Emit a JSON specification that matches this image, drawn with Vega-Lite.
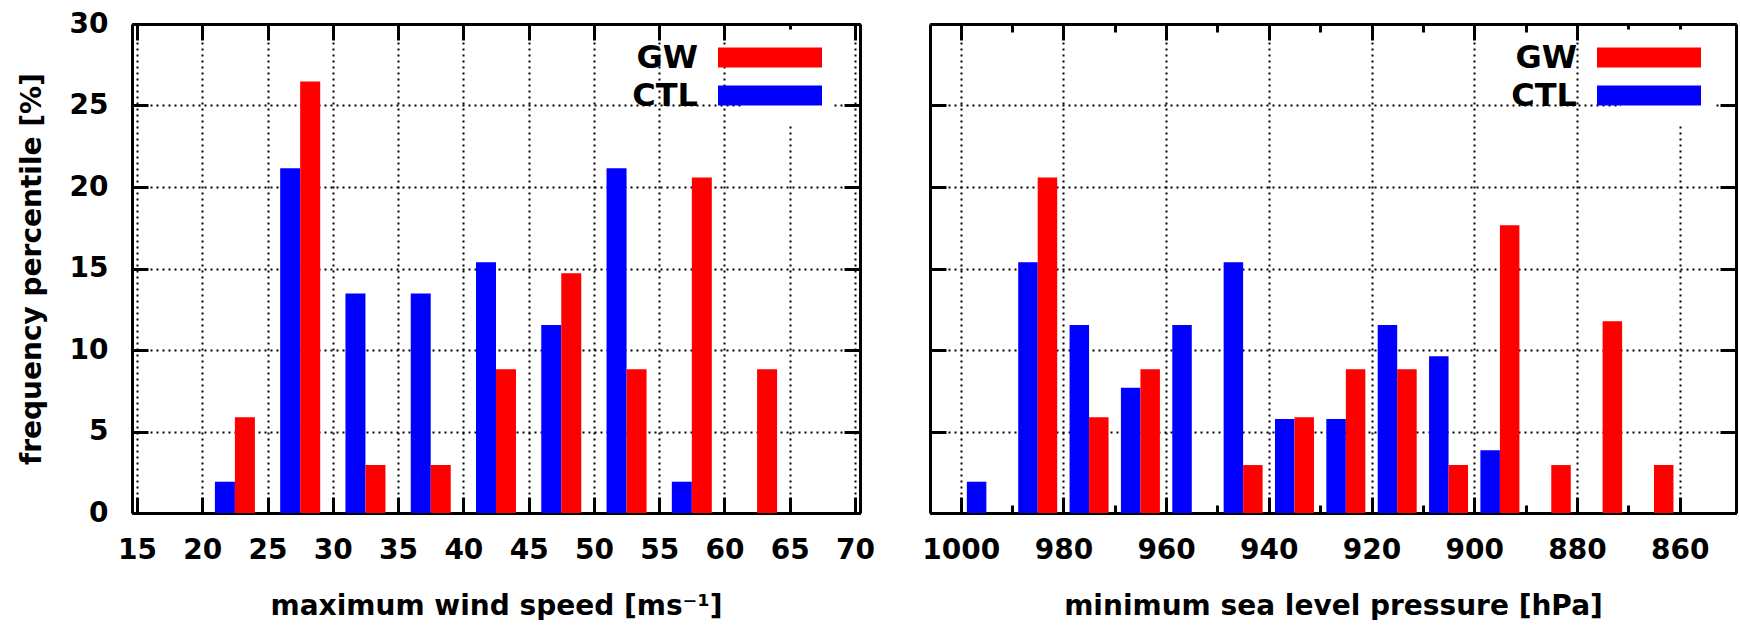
{
  "$schema": "https://vega.github.io/schema/vega-lite/v6.json",
  "padding": {"left": 18, "top": 10, "right": 0, "bottom": 0},
  "datasets": {
    "wind": [
      {"speed": 22.5, "series": "CTL", "pct": 1.92},
      {"speed": 22.5, "series": "GW", "pct": 5.88},
      {"speed": 27.5, "series": "CTL", "pct": 21.15},
      {"speed": 27.5, "series": "GW", "pct": 26.47},
      {"speed": 32.5, "series": "CTL", "pct": 13.46},
      {"speed": 32.5, "series": "GW", "pct": 2.94},
      {"speed": 37.5, "series": "CTL", "pct": 13.46},
      {"speed": 37.5, "series": "GW", "pct": 2.94},
      {"speed": 42.5, "series": "CTL", "pct": 15.38},
      {"speed": 42.5, "series": "GW", "pct": 8.82},
      {"speed": 47.5, "series": "CTL", "pct": 11.54},
      {"speed": 47.5, "series": "GW", "pct": 14.71},
      {"speed": 52.5, "series": "CTL", "pct": 21.15},
      {"speed": 52.5, "series": "GW", "pct": 8.82},
      {"speed": 57.5, "series": "CTL", "pct": 1.92},
      {"speed": 57.5, "series": "GW", "pct": 20.59},
      {"speed": 62.5, "series": "CTL", "pct": 0},
      {"speed": 62.5, "series": "GW", "pct": 8.82},
      {"speed": 67.5, "series": "CTL", "pct": 0},
      {"speed": 67.5, "series": "GW", "pct": 0}
    ],
    "slp": [
      {"pressure": 995, "series": "CTL", "pct": 1.92},
      {"pressure": 995, "series": "GW", "pct": 0},
      {"pressure": 985, "series": "CTL", "pct": 15.38},
      {"pressure": 985, "series": "GW", "pct": 20.59},
      {"pressure": 975, "series": "CTL", "pct": 11.54},
      {"pressure": 975, "series": "GW", "pct": 5.88},
      {"pressure": 965, "series": "CTL", "pct": 7.69},
      {"pressure": 965, "series": "GW", "pct": 8.82},
      {"pressure": 955, "series": "CTL", "pct": 11.54},
      {"pressure": 955, "series": "GW", "pct": 0},
      {"pressure": 945, "series": "CTL", "pct": 15.38},
      {"pressure": 945, "series": "GW", "pct": 2.94},
      {"pressure": 935, "series": "CTL", "pct": 5.77},
      {"pressure": 935, "series": "GW", "pct": 5.88},
      {"pressure": 925, "series": "CTL", "pct": 5.77},
      {"pressure": 925, "series": "GW", "pct": 8.82},
      {"pressure": 915, "series": "CTL", "pct": 11.54},
      {"pressure": 915, "series": "GW", "pct": 8.82},
      {"pressure": 905, "series": "CTL", "pct": 9.62},
      {"pressure": 905, "series": "GW", "pct": 2.94},
      {"pressure": 895, "series": "CTL", "pct": 3.85},
      {"pressure": 895, "series": "GW", "pct": 17.65},
      {"pressure": 885, "series": "CTL", "pct": 0},
      {"pressure": 885, "series": "GW", "pct": 2.94},
      {"pressure": 875, "series": "CTL", "pct": 0},
      {"pressure": 875, "series": "GW", "pct": 11.76},
      {"pressure": 865, "series": "CTL", "pct": 0},
      {"pressure": 865, "series": "GW", "pct": 2.94},
      {"pressure": 855, "series": "CTL", "pct": 0},
      {"pressure": 855, "series": "GW", "pct": 0}
    ]
  },
  "spacing": 70,
  "bounds": "flush",
  "hconcat": [
    {
      "width": 728,
      "height": 489,
      "data": {"name": "wind"},
      "layer": [
        {
          "transform": [{"filter": "datum.series == 'CTL'"}],
          "mark": {"type": "bar", "width": 20, "xOffset": -10},
          "encoding": {
            "x": {
              "field": "speed", "type": "quantitative",
              "scale": {"domain": [15, 70], "nice": false, "zero": false},
              "axis": {"orient": "bottom", "values": [15, 20, 25, 30, 35, 40, 45, 50, 55, 60, 65, 70], "format": "d", "title": "maximum wind speed [ms⁻¹]", "grid": true}
            },
            "y": {
              "field": "pct", "type": "quantitative", "stack": null,
              "scale": {"domain": [0, 30], "nice": false},
              "axis": {"orient": "left", "values": [0, 5, 10, 15, 20, 25, 30], "format": "d", "title": "frequency percentile [%]", "grid": true, "labelPadding": 40, "titlePadding": 23}
            },
            "color": {
              "field": "series", "type": "nominal",
              "scale": {"domain": ["GW", "CTL"], "range": ["#ff0000", "#0000ff"]},
              "legend": {
                "title": null, "orient": "none", "direction": "vertical",
                "legendX": 610, "legendY": 5.5, "padding": 12, "rowPadding": 6,
                "fillColor": "white", "strokeColor": null,
                "symbolType": "M-5.2,-1H5.2V1H-5.2Z", "symbolSize": 400,
                "symbolStrokeWidth": 0, "symbolOpacity": 1,
                "labelAlign": "right", "labelOffset": -88, "labelBaseline": "middle",
                "labelFont": "DejaVu Sans", "labelFontSize": 32, "labelFontWeight": "bold", "labelColor": "black"
              }
            }
          }
        },
        {
          "transform": [{"filter": "datum.series == 'GW'"}],
          "mark": {"type": "bar", "width": 20, "xOffset": 10},
          "encoding": {
            "x": {"field": "speed", "type": "quantitative", "axis": null},
            "y": {"field": "pct", "type": "quantitative", "stack": null, "axis": null},
            "color": {"field": "series", "type": "nominal"}
          }
        },
        {
          "mark": {"type": "point", "opacity": 0},
          "encoding": {
            "x": {
              "field": "speed", "type": "quantitative",
              "axis": {"orient": "top", "values": [15, 20, 25, 30, 35, 40, 45, 50, 55, 60, 65, 70], "labels": false, "grid": false, "title": null}
            },
            "y": {
              "field": "pct", "type": "quantitative",
              "axis": {"orient": "right", "values": [0, 5, 10, 15, 20, 25, 30], "labels": false, "grid": false, "title": null}
            }
          }
        }
      ],
      "resolve": {"axis": {"x": "independent", "y": "independent"}}
    },
    {
      "width": 806,
      "height": 489,
      "data": {"name": "slp"},
      "layer": [
        {
          "transform": [{"filter": "datum.series == 'CTL'"}],
          "mark": {"type": "bar", "width": 19.5, "xOffset": -9.75},
          "encoding": {
            "x": {
              "field": "pressure", "type": "quantitative",
              "scale": {"domain": [850, 1005], "reverse": true, "nice": false, "zero": false},
              "axis": {
                "orient": "bottom",
                "values": [1000, 990, 980, 970, 960, 950, 940, 930, 920, 910, 900, 890, 880, 870, 860],
                "format": "d",
                "labelExpr": "datum.value % 20 == 0 ? datum.label : ''",
                "tickSize": {"condition": {"test": "datum.value % 20 != 0", "value": -8}, "value": -16},
                "labelPadding": {"condition": {"test": "datum.value % 20 != 0", "value": 31}, "value": 39},
                "gridOpacity": {"condition": {"test": "datum.value % 20 != 0", "value": 0}, "value": 1},
                "title": "minimum sea level pressure [hPa]", "grid": true
              }
            },
            "y": {
              "field": "pct", "type": "quantitative", "stack": null,
              "scale": {"domain": [0, 30], "nice": false},
              "axis": {"orient": "left", "values": [0, 5, 10, 15, 20, 25, 30], "labels": false, "title": null, "grid": true}
            },
            "color": {
              "field": "series", "type": "nominal",
              "scale": {"domain": ["GW", "CTL"], "range": ["#ff0000", "#0000ff"]},
              "legend": {
                "title": null, "orient": "none", "direction": "vertical",
                "legendX": 691, "legendY": 5.5, "padding": 12, "rowPadding": 6,
                "fillColor": "white", "strokeColor": null,
                "symbolType": "M-5.2,-1H5.2V1H-5.2Z", "symbolSize": 400,
                "symbolStrokeWidth": 0, "symbolOpacity": 1,
                "labelAlign": "right", "labelOffset": -88, "labelBaseline": "middle",
                "labelFont": "DejaVu Sans", "labelFontSize": 32, "labelFontWeight": "bold", "labelColor": "black"
              }
            }
          }
        },
        {
          "transform": [{"filter": "datum.series == 'GW'"}],
          "mark": {"type": "bar", "width": 19.5, "xOffset": 9.75},
          "encoding": {
            "x": {"field": "pressure", "type": "quantitative", "axis": null},
            "y": {"field": "pct", "type": "quantitative", "stack": null, "axis": null},
            "color": {"field": "series", "type": "nominal"}
          }
        },
        {
          "mark": {"type": "point", "opacity": 0},
          "encoding": {
            "x": {
              "field": "pressure", "type": "quantitative",
              "axis": {
                "orient": "top",
                "values": [1000, 990, 980, 970, 960, 950, 940, 930, 920, 910, 900, 890, 880, 870, 860],
                "tickSize": {"condition": {"test": "datum.value % 20 != 0", "value": -8}, "value": -16},
                "labels": false, "grid": false, "title": null
              }
            },
            "y": {
              "field": "pct", "type": "quantitative",
              "axis": {"orient": "right", "values": [0, 5, 10, 15, 20, 25, 30], "labels": false, "grid": false, "title": null}
            }
          }
        }
      ],
      "resolve": {"axis": {"x": "independent", "y": "independent"}}
    }
  ],
  "resolve": {"scale": {"color": "independent"}, "legend": {"color": "independent"}},
  "config": {
    "font": "DejaVu Sans",
    "view": {"stroke": null},
    "axis": {
      "domainColor": "black", "domainWidth": 3,
      "tickColor": "black", "tickWidth": 3, "tickSize": -16,
      "gridColor": "black", "gridDash": [2, 4], "gridWidth": 2, "gridOpacity": 1,
      "labelFont": "DejaVu Sans", "labelFontSize": 28, "labelFontWeight": "bold", "labelColor": "black", "labelPadding": 39,
      "labelFlush": false, "labelOverlap": false, "labelBound": false,
      "titleFont": "DejaVu Sans", "titleFontSize": 28, "titleFontWeight": "bold", "titleColor": "black",
      "titlePadding": 28
    }
  }
}
